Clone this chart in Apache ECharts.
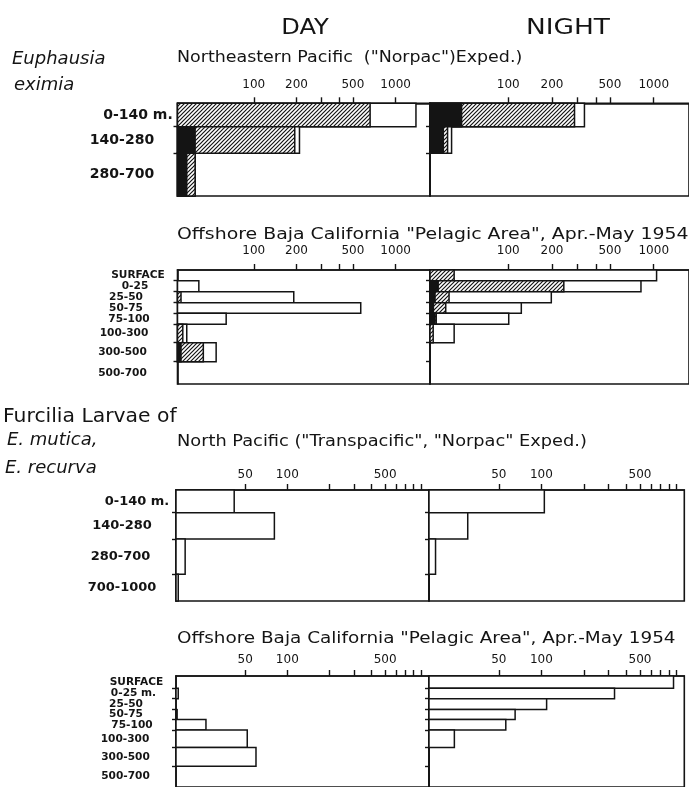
<!DOCTYPE html>
<html><head><meta charset="utf-8">
<script src="https://cdn.jsdelivr.net/npm/echarts@6/dist/echarts.min.js"></script>
<style>html,body{margin:0;padding:0;background:#fff}#c{width:689px;height:787px}</style>
</head><body><div id="c"></div>
<script>
// ================= DATA =================
// Euphausia eximia, Northeastern Pacific ("Norpac") Exped.
const euphNorpacDepths = ['0-140 m.', '140-280', '280-700'];
const euphNorpacDayBlack   = [0, 38.6, 33.7];
const euphNorpacDayHatched = [661, 194.5, 38.6];
const euphNorpacDayTotal   = [1391, 210, 38.6];
const euphNorpacNightBlack   = [47.8, 35.8, 0];
const euphNorpacNightHatched = [285.5, 38.3, 0];
const euphNorpacNightTotal   = [334, 40.8, 0];

// Euphausia eximia, Offshore Baja California "Pelagic Area", Apr.-May 1954
const euphBajaDepths = ['SURFACE', '0-25', '25-50', '50-75', '75-100', '100-300', '300-500', '500-700'];
const euphBajaDayBlack   = [0, 0, 0, 0, 0, 0, 30.7, 0];
const euphBajaDayHatched = [0, 0, 30.7, 0, 0, 31.6, 44.1, 0];
const euphBajaDayTotal   = [0, 41, 191.4, 567.6, 63.9, 33.7, 54.3, 0];
const euphBajaNightBlack   = [0, 33, 31.4, 30.6, 31.4, 0, 0, 0];
const euphBajaNightHatched = [42.5, 241, 39.2, 37.2, 32, 30.5, 0, 0];
const euphBajaNightTotal   = [1046, 817, 197.7, 123, 100.8, 42.5, 0, 0];

// Furcilia larvae of E. mutica, E. recurva, North Pacific
const furcNorpacDepths = ['0-140 m.', '140-280', '280-700', '700-1000'];
const furcNorpacDay   = [41.7, 80.8, 18.6, 16.6];
const furcNorpacNight = [105, 30.1, 17.8, 0];

// Furcilia, Offshore Baja California
const furcBajaDepths = ['SURFACE', '0-25 m.', '25-50', '50-75', '75-100', '100-300', '300-500', '500-700'];
const furcBajaDay   = [0, 16.6, 0, 16.3, 26.2, 51.7, 59.7, 0];
const furcBajaNight = [864, 330, 109, 65.2, 56, 24.2, 0, 0];

// Axis ticks
const euphTicks = [100, 200, 300, 400, 500, 1000];
const euphTickLabels = [100, 200, 500, 1000];
const furcTicks = [50, 100, 200, 300, 400, 500, 600, 700, 800, 900];
const furcTickLabels = [50, 100, 500];

// ================= LAYOUT / STYLE =================
const INK = '#141414';
const FONT = 'DejaVu Sans';
const EUPH_RANGE = {min: 29, max: 1747};
const FURC_RANGE = {min: 16, max: 1030};
const ROW_SPANS = {
  p1: [23.4, 26.6, 42.7],
  p2: [10.7, 11, 11, 10.6, 11, 18.4, 19, 22.3],
  p3: [22.7, 26.3, 35.3, 26.7],
  p4: [12.3, 10.7, 11, 10, 10.7, 17.6, 19, 21]
};
// horizontal nudges of the depth labels (px, + = right)
const LABEL_NUDGE = {
  p1: [16, 0, 0],
  p2: [14, 11, 2, 2, 5, 0, -1.5, -1.5],
  p3: [15, 0, -1.5, 0],
  p4: [11, 8, 0.5, 0.5, 6.5, -0.5, 0, 0]
};

function edgesOf(spans) {
  const e = [0];
  spans.forEach(s => e.push(e[e.length - 1] + s));
  return e;
}
function buildRows(edges, black, hatched, total) {
  const out = [];
  total.forEach((t, i) => {
    if (t > 0) out.push([edges[i], edges[i + 1], black[i] || 0, hatched[i] || 0, t]);
  });
  return out;
}

function makeHatch() {
  const c = document.createElement('canvas');
  c.width = 4; c.height = 4;
  const g = c.getContext('2d');
  g.fillStyle = '#fff'; g.fillRect(0, 0, 4, 4);
  g.strokeStyle = INK; g.lineWidth = 1.2;
  g.beginPath();
  g.moveTo(0, 4); g.lineTo(4, 0);
  g.moveTo(-1, 1); g.lineTo(1, -1);
  g.moveTo(3, 5); g.lineTo(5, 3);
  g.stroke();
  return c;
}
const HATCH = {image: makeHatch(), repeat: 'repeat'};

function renderer(minVal) {
  return function (params, api) {
    const top = api.value(0), bot = api.value(1);
    const layers = [[api.value(4), '#fff'], [api.value(3), HATCH], [api.value(2), INK]];
    const children = [];
    layers.forEach(([v, fill]) => {
      if (!(v > minVal)) return;
      const p0 = api.coord([minVal, top]);
      const p1 = api.coord([v, bot]);
      children.push({
        type: 'rect',
        shape: {x: p0[0], y: p0[1], width: p1[0] - p0[0], height: p1[1] - p0[1]},
        style: {fill: fill, stroke: INK, lineWidth: 1.5}
      });
    });
    return {type: 'group', children: children};
  };
}

const panels = [
  {grid: {left: 177.5, top: 103.3, width: 252.5}, range: EUPH_RANGE, ticks: euphTicks, labels: euphTickLabels, lblMargin: 12,
   spans: ROW_SPANS.p1, depths: euphNorpacDepths, nudge: LABEL_NUDGE.p1, depthMargin: 55.5, depthSize: 14,
   rows: e => buildRows(e, euphNorpacDayBlack, euphNorpacDayHatched, euphNorpacDayTotal)},
  {grid: {left: 430, top: 103.3, width: 262}, range: EUPH_RANGE, ticks: euphTicks, labels: euphTickLabels, lblMargin: 12,
   spans: ROW_SPANS.p1, depths: null,
   rows: e => buildRows(e, euphNorpacNightBlack, euphNorpacNightHatched, euphNorpacNightTotal)},
  {grid: {left: 177.5, top: 270, width: 252.5}, range: EUPH_RANGE, ticks: euphTicks, labels: euphTickLabels, lblMargin: 13,
   spans: ROW_SPANS.p2, depths: euphBajaDepths, nudge: LABEL_NUDGE.p2, depthMargin: 53.5, depthSize: 10.6,
   rows: e => buildRows(e, euphBajaDayBlack, euphBajaDayHatched, euphBajaDayTotal)},
  {grid: {left: 430, top: 270, width: 262}, range: EUPH_RANGE, ticks: euphTicks, labels: euphTickLabels, lblMargin: 13,
   spans: ROW_SPANS.p2, depths: null,
   rows: e => buildRows(e, euphBajaNightBlack, euphBajaNightHatched, euphBajaNightTotal)},
  {grid: {left: 176, top: 490, width: 253}, range: FURC_RANGE, ticks: furcTicks, labels: furcTickLabels, lblMargin: 9,
   spans: ROW_SPANS.p3, depths: furcNorpacDepths, nudge: LABEL_NUDGE.p3, depthMargin: 54, depthSize: 13,
   rows: e => buildRows(e, [], [], furcNorpacDay)},
  {grid: {left: 429, top: 490, width: 255.3}, range: FURC_RANGE, ticks: furcTicks, labels: furcTickLabels, lblMargin: 9,
   spans: ROW_SPANS.p3, depths: null,
   rows: e => buildRows(e, [], [], furcNorpacNight)},
  {grid: {left: 176, top: 676, width: 253}, range: FURC_RANGE, ticks: furcTicks, labels: furcTickLabels, lblMargin: 10,
   spans: ROW_SPANS.p4, depths: furcBajaDepths, nudge: LABEL_NUDGE.p4, depthMargin: 50.5, depthSize: 10.6,
   rows: e => buildRows(e, [], [], furcBajaDay)},
  {grid: {left: 429, top: 676, width: 255.3}, range: FURC_RANGE, ticks: furcTicks, labels: furcTickLabels, lblMargin: 10,
   spans: ROW_SPANS.p4, depths: null,
   rows: e => buildRows(e, [], [], furcBajaNight)}
];

const grid = [], xAxis = [], yAxis = [], series = [];
panels.forEach((p, i) => {
  const edges = edgesOf(p.spans);
  const total = edges[edges.length - 1];
  grid.push(Object.assign({height: total, show: true, borderColor: INK, borderWidth: 1.6,
    backgroundColor: 'transparent', containLabel: false}, p.grid));
  xAxis.push({
    type: 'log', logBase: 10, gridIndex: i, position: 'top', min: p.range.min, max: p.range.max,
    axisLine: {show: true, lineStyle: {color: INK, width: 1.6}},
    axisTick: {show: true, inside: false, length: 6, customValues: p.ticks, lineStyle: {color: INK, width: 1.4}},
    axisLabel: {show: true, customValues: p.labels, formatter: v => String(Math.round(v)),
      showMinLabel: true, showMaxLabel: true, hideOverlap: false,
      margin: p.lblMargin, fontSize: 12, color: INK, fontFamily: FONT},
    splitLine: {show: false}, minorTick: {show: false}
  });
  let axisLabel = {show: false};
  if (p.depths) {
    const centers = p.depths.map((_, k) => (edges[k] + edges[k + 1]) / 2);
    const rich = {};
    p.nudge.forEach((n, k) => {
      rich['n' + k] = {
        fontSize: p.depthSize, fontWeight: 'bold', fontFamily: FONT, color: INK,
        padding: n >= 0 ? [0, 0, 0, 2 * n] : [0, -2 * n, 0, 0]
      };
    });
    axisLabel = {
      show: true, customValues: centers,
      showMinLabel: true, showMaxLabel: true, hideOverlap: false,
      formatter: v => {
        let best = 0;
        centers.forEach((c, k) => { if (Math.abs(c - v) < Math.abs(centers[best] - v)) best = k; });
        return '{n' + best + '|' + p.depths[best] + '}';
      },
      rich: rich,
      align: 'center', margin: p.depthMargin, fontSize: p.depthSize, fontWeight: 'bold', color: INK, fontFamily: FONT
    };
  }
  yAxis.push({
    type: 'value', gridIndex: i, inverse: true, min: 0, max: total,
    axisLine: {show: true, lineStyle: {color: INK, width: 1.6}},
    axisTick: {show: true, inside: false, length: 4, customValues: edges.slice(1, -1), lineStyle: {color: INK, width: 1.4}},
    axisLabel: axisLabel,
    splitLine: {show: false}
  });
  series.push({
    type: 'custom', xAxisIndex: i, yAxisIndex: i,
    renderItem: renderer(p.range.min),
    encode: {x: 4, y: [0, 1]},
    data: p.rows(edges),
    silent: true
  });
});

function txt(text, x, y, font, align, sx) {
  return {type: 'text', x: x, y: y, silent: true, scaleX: sx || 1, scaleY: 1, originX: 0, originY: 0,
    style: {text: text, font: font, fill: INK, align: align || 'left', verticalAlign: 'middle',
      textAlign: align || 'left', textVerticalAlign: 'middle'}};
}
const graphic = [
  txt('DAY', 305, 28, '22px ' + FONT, 'center', 1.1),
  txt('NIGHT', 568, 28, '22px ' + FONT, 'center', 1.2),
  txt('Euphausia', 12, 59, 'italic 18px ' + FONT),
  txt('eximia', 14, 85, 'italic 18px ' + FONT),
  txt('Northeastern Pacific  ("Norpac")Exped.)', 177, 58, '16px ' + FONT, 'left', 1.09),
  txt('Offshore Baja California "Pelagic Area", Apr.-May 1954', 177, 235, '16px ' + FONT, 'left', 1.18),
  txt('Furcilia Larvae of', 3, 417, '19px ' + FONT, 'left', 1.07),
  txt('E. mutica,', 7, 440, 'italic 18px ' + FONT),
  txt('E. recurva', 5, 468, 'italic 18px ' + FONT),
  txt('North Pacific ("Transpacific", "Norpac" Exped.)', 177, 442, '16px ' + FONT, 'left', 1.11),
  txt('Offshore Baja California "Pelagic Area", Apr.-May 1954', 177, 639, '16px ' + FONT, 'left', 1.15)
];

const chart = echarts.init(document.getElementById('c'), null, {renderer: 'canvas'});
chart.setOption({
  backgroundColor: '#fff',
  animation: false,
  grid: grid, xAxis: xAxis, yAxis: yAxis, series: series,
  graphic: graphic
});
</script></body></html>
